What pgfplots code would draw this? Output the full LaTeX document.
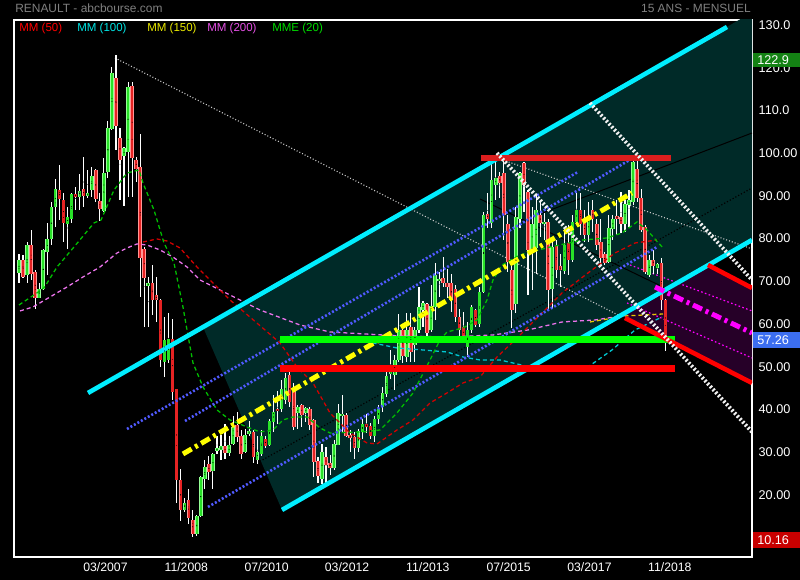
\documentclass[border=0pt]{standalone}
\usepackage{fontspec}
\setmainfont{Liberation Sans}
\usepackage{graphicx}
\usepackage{pgfplots}
\pgfplotsset{compat=1.18}
\usepackage{pgfplotstable}

\definecolor{tealfill}{RGB}{0,42,40}
\definecolor{purplefill}{RGB}{38,0,40}
\definecolor{cyanline}{RGB}{0,238,255}
\definecolor{bluedot}{RGB}{80,90,255}
\definecolor{yellowline}{RGB}{255,255,0}
\definecolor{redline}{RGB}{255,0,0}
\definecolor{redband}{RGB}{220,30,30}
\definecolor{greenband}{RGB}{0,255,0}
\definecolor{whitedot}{RGB}{240,240,240}
\definecolor{greydot}{RGB}{200,200,200}
\definecolor{magline}{RGB}{255,0,255}
\definecolor{maA}{RGB}{210,0,0}
\definecolor{maB}{RGB}{0,200,210}
\definecolor{maC}{RGB}{230,200,0}
\definecolor{maD}{RGB}{235,115,235}
\definecolor{maE}{RGB}{0,190,0}
\definecolor{gbody}{RGB}{40,225,40}
\definecolor{gedge}{RGB}{150,255,150}
\definecolor{rbody}{RGB}{230,35,35}
\definecolor{redge}{RGB}{255,150,150}
\definecolor{titlegrey}{RGB}{128,128,128}
\definecolor{boxgreen}{RGB}{20,130,20}
\definecolor{boxblue}{RGB}{60,110,240}
\definecolor{boxred}{RGB}{200,0,0}

% monthly candles: index, open, high, low, close
\pgfplotstableread{
i o h l c
1 72.0 76.5 69.5 75.1
3 71.6 79.3 69.5 78.5
6 66.2 69.5 66.0 68.3
7 68.3 77.6 68.0 77.3
8 76.8 83.6 71.5 80.0
9 80.0 88.6 78.5 87.3
10 87.3 93.9 82.8 91.5
13 83.4 87.5 77.5 85.1
14 84.5 90.6 83.6 90.4
16 89.8 95.1 86.7 91.2
18 90.0 96.0 89.4 90.6
19 91.3 96.8 89.8 94.6
22 86.5 98.8 86.3 95.3
23 95.7 107.6 94.1 105.8
24 105.6 120.2 105.4 118.7
27 99.3 101.5 87.6 101.1
28 100.3 116.7 89.8 115.6
33 69.0 71.1 59.4 69.5
37 51.2 61.7 47.6 56.2
38 51.6 62.5 50.8 56.6
42 16.6 19.2 16.0 18.1
45 10.8 15.2 10.3 15.0
46 15.0 24.5 14.8 24.2
47 23.8 28.1 21.5 26.6
49 25.6 29.8 21.3 29.5
50 30.3 33.7 29.7 31.0
51 30.5 34.0 28.1 31.4
53 29.8 33.7 29.1 31.6
54 31.9 38.4 31.6 35.8
57 30.1 35.5 29.8 34.0
58 34.2 37.3 33.7 34.9
60 28.3 33.7 27.3 30.1
61 29.7 35.2 29.1 33.7
63 31.6 37.9 31.4 37.3
64 37.1 43.3 34.8 39.4
66 40.2 46.9 39.4 44.7
67 42.3 48.6 41.2 47.3
70 39.1 41.0 35.5 40.6
72 39.1 40.6 37.1 40.4
76 23.8 32.0 22.5 30.1
79 26.2 32.8 25.8 32.0
80 31.8 41.4 31.6 39.1
81 38.5 43.4 34.4 38.9
85 30.9 35.5 30.1 35.0
86 34.8 37.9 33.2 36.7
89 33.8 38.4 32.4 37.9
90 37.9 41.0 36.7 40.2
91 40.6 45.3 39.4 43.9
92 43.6 49.2 43.0 47.8
93 48.3 53.9 47.2 48.8
94 48.0 52.7 44.5 51.7
95 51.5 62.3 51.1 58.7
97 52.3 62.5 51.1 58.7
99 55.1 59.4 51.1 58.6
100 58.6 68.7 57.8 64.0
101 63.2 65.4 59.4 65.0
103 58.6 69.1 58.2 64.2
104 64.0 74.3 60.9 71.5
105 70.0 72.2 66.4 70.5
112 54.7 60.5 52.3 58.7
113 58.7 64.4 57.8 64.0
115 60.0 68.7 59.4 67.5
116 67.5 86.3 67.2 85.5
118 83.7 98.0 82.4 93.7
119 92.5 99.6 89.0 94.1
124 64.8 87.5 62.5 85.1
125 84.7 95.7 82.4 95.3
128 77.3 87.5 67.9 83.5
129 77.7 90.2 71.8 86.7
131 83.4 85.9 79.6 84.0
133 68.3 79.3 63.6 78.1
136 72.5 82.4 71.8 78.5
138 75.0 85.5 74.6 83.9
139 83.9 90.6 83.2 86.7
142 80.8 88.6 79.3 84.7
147 74.6 85.5 74.2 82.6
148 82.2 85.5 79.6 84.7
151 83.5 89.0 81.6 88.2
152 87.8 91.4 82.8 89.0
153 88.6 99.6 87.8 98.0
157 71.5 76.1 71.1 75.0
159 73.2 74.2 71.8 74.0
}\upcandles

\pgfplotstableread{
i o h l c
2 75.1 76.1 70.7 71.1
4 78.5 82.0 70.3 71.8
5 72.2 72.6 63.6 66.0
11 91.3 97.2 84.3 89.2
12 89.0 90.6 79.3 83.6
15 90.4 92.1 86.7 89.8
17 91.5 99.0 87.5 90.0
20 96.0 96.4 88.6 89.2
21 88.9 90.6 84.2 86.9
25 117.7 122.9 100.7 106.3
26 103.5 105.8 89.0 98.5
29 115.7 116.7 89.8 98.8
30 98.4 99.2 93.3 96.4
31 96.7 104.6 66.4 75.4
32 77.5 78.1 59.4 70.7
34 69.5 73.8 62.1 65.6
35 66.9 71.1 60.5 65.6
36 65.6 65.8 50.0 51.6
39 56.4 61.3 42.2 44.1
40 44.7 44.9 18.2 23.4
41 23.6 26.0 14.0 16.5
43 18.9 21.3 13.1 14.5
44 14.2 16.6 10.16 10.9
48 27.2 29.1 23.4 25.4
52 31.4 36.7 28.5 29.8
55 36.3 39.4 32.4 33.6
56 33.7 35.3 28.5 29.7
59 34.8 35.2 27.5 28.8
62 33.2 33.7 30.9 31.4
65 40.1 44.4 36.7 39.6
68 48.0 48.8 40.6 41.8
69 44.5 46.1 35.2 35.9
71 41.0 41.4 36.0 38.7
73 40.2 40.6 35.2 36.3
74 37.5 37.9 24.2 27.7
75 28.0 28.9 22.7 24.4
77 28.9 31.2 22.7 27.0
78 27.6 29.3 24.6 26.2
82 38.7 39.2 33.6 33.8
83 34.0 35.2 30.1 33.4
84 33.6 34.8 28.5 30.9
87 36.6 38.9 34.4 36.0
88 36.1 36.9 33.2 33.8
96 58.6 59.4 50.8 52.5
98 59.2 62.5 51.1 53.5
102 64.8 65.0 57.0 57.9
106 70.9 75.7 68.7 69.7
107 69.7 73.0 66.2 68.6
108 69.7 71.8 62.9 65.6
109 68.1 69.1 60.5 61.7
110 61.7 63.6 57.0 58.7
111 59.2 62.9 56.2 57.0
114 63.4 63.6 59.4 59.7
117 85.7 90.6 82.6 84.7
120 94.6 95.7 89.4 92.9
121 95.3 99.6 79.6 85.5
122 83.5 85.5 72.2 74.6
123 72.6 75.0 59.0 63.3
126 97.6 98.0 86.3 92.5
127 91.0 91.4 66.8 77.3
130 85.5 88.6 80.4 83.7
132 83.9 84.7 63.6 67.9
134 78.5 79.7 70.7 72.6
135 73.6 76.5 68.7 72.6
137 78.9 83.2 71.5 75.0
140 86.7 90.6 80.8 83.5
141 83.9 86.7 79.3 80.8
143 86.7 89.0 81.6 84.7
144 83.5 84.7 77.3 78.5
145 79.3 84.7 74.2 75.4
146 76.5 76.9 73.8 74.2
149 85.3 89.0 80.8 84.7
150 85.1 91.0 81.2 83.4
154 96.4 98.8 88.6 89.4
155 89.4 91.7 81.6 82.0
156 82.8 83.2 71.8 72.2
158 75.1 77.3 71.8 73.6
160 74.3 75.4 63.4 65.6
161 65.6 65.8 53.6 57.26
}\downcandles

\pgfplotsset{
  hiddenmarks/.style={only marks, mark=*, mark size=0.01pt, mark options={draw=none, fill=none}},
  wick/.style={hiddenmarks, error bars/.cd, y dir=both, y explicit,
    error mark=none, error bar style={draw=white, line width=0.28mm}},
  body/.style 2 args={hiddenmarks, error bars/.cd, y dir=both, y explicit,
    error mark=none, error bar style={draw=#1, line width=#2}},
  madash/.style={mark=none, line width=0.32mm, dash pattern=on 1mm off 0.75mm},
  bluedots/.style={mark=none, bluedot, line width=0.65mm, dash pattern=on 0.5mm off 0.5mm},
  whitedots/.style={mark=none, whitedot, line width=0.95mm, dash pattern=on 0.5mm off 0.5mm},
  dashdot/.style={mark=none, line width=1.25mm, dash pattern=on 2.5mm off 1mm on 0.75mm off 1mm},
}

\begin{document}
\begin{tikzpicture}[x=0.25mm,y=0.25mm]
\useasboundingbox (0,0) rectangle (800,580);
\fill[black] (0,0) rectangle (800,580);

\begin{axis}[
  at={(3.5mm,5.75mm)}, anchor=south west,
  width=184.5mm, height=134.25mm, scale only axis,
  xmin=-0.24, xmax=182.44, ymin=5.49, ymax=131.17,
  axis line style={white, line width=0.3mm},
  major tick length=0pt, tick style={draw=none},
  xtick={22.4,42.4,62.3,82.2,102.2,122.2,142.2,162.1},
  xticklabels={03/2007,11/2008,07/2010,03/2012,11/2013,07/2015,03/2017,11/2018},
  ytick={20,30,40,50,60,70,80,90,100,110,120,130},
  yticklabels={20.00,30.00,40.00,50.00,60.00,70.00,80.00,90.00,100.00,110.0,120.0,130.0},
  yticklabel pos=right,
  ticklabel style={text=white},
  xticklabel style={font=\fontsize{8.7}{10}\selectfont, anchor=north, inner sep=0pt, yshift=-1.3mm},
  yticklabel style={font=\fontsize{9}{10}\selectfont, anchor=west, inner sep=0pt, xshift=1.6mm},
]

% channel background
\addplot[fill=tealfill, draw=none] coordinates {(46.54,59.32) (182.44,132.92) (182.44,79.68) (66.10,16.50)} -- cycle;
% projected channel
\addplot[fill=purplefill, draw=none] coordinates {(150.75,62.48) (171.54,73.83) (182.44,68.45) (182.44,46.22) (151.0,61.43)} -- cycle;

% thin guide lines
\addplot[mark=none, greydot, line width=0.28mm, dash pattern=on 0.25mm off 0.5mm] coordinates {(24.76,122.28) (150.26,61.66)};
\addplot[mark=none, greydot, line width=0.28mm, dash pattern=on 0.25mm off 0.5mm] coordinates {(120.80,98.41) (182.44,77.58)};
\addplot[mark=none, black, line width=0.3mm, dash pattern=on 0.3mm off 0.5mm] coordinates {(59.91,27.49) (182.44,91.85)};
\addplot[mark=none, black, line width=0.25mm] coordinates {(115.11,89.28) (160.9,68.45)};
\addplot[mark=none, black, line width=0.25mm] coordinates {(129.96,85.77) (182.44,104.72)};
\addplot[mark=none, magline, line width=0.3mm, dash pattern=on 0.4mm off 0.6mm] coordinates {(152.24,73.83) (182.44,63.07)};
\addplot[mark=none, magline, line width=0.3mm, dash pattern=on 0.4mm off 0.6mm] coordinates {(151.5,64.94) (182.44,52.07)};

% candles: wicks, then bodies
\addplot[wick] table[x=i, y expr={(\thisrow{h}+\thisrow{l})/2}, y error expr={(\thisrow{h}-\thisrow{l})/2}] {\upcandles};
\addplot[wick] table[x=i, y expr={(\thisrow{h}+\thisrow{l})/2}, y error expr={(\thisrow{h}-\thisrow{l})/2}] {\downcandles};
\addplot[body={gedge}{0.9mm}] table[x=i, y expr={(\thisrow{o}+\thisrow{c})/2}, y error expr={abs(\thisrow{c}-\thisrow{o})/2}] {\upcandles};
\addplot[body={gbody}{0.55mm}] table[x=i, y expr={(\thisrow{o}+\thisrow{c})/2}, y error expr={abs(\thisrow{c}-\thisrow{o})/2}] {\upcandles};
\addplot[body={redge}{0.9mm}] table[x=i, y expr={(\thisrow{o}+\thisrow{c})/2}, y error expr={abs(\thisrow{c}-\thisrow{o})/2}] {\downcandles};
\addplot[body={rbody}{0.55mm}] table[x=i, y expr={(\thisrow{o}+\thisrow{c})/2}, y error expr={abs(\thisrow{c}-\thisrow{o})/2}] {\downcandles};

% moving averages
\addplot[madash, maD] coordinates {(1.25,63.07) (4.46,64.00) (8.67,66.34) (12.88,68.68) (16.84,71.02) (21.05,73.36) (25.26,76.64) (27.73,77.81) (30.20,78.75) (32.68,78.51) (35.90,77.34) (39.11,75.70) (42.58,73.36) (45.80,70.32) (53.23,66.81) (60.65,63.30) (70.55,59.79) (77.98,58.15) (95.31,57.22) (107.68,56.98) (118.33,57.45) (127.00,58.62) (135.41,60.49) (143.57,60.96) (151.75,62.13)};
\addplot[madash, maC] coordinates {(142.34,60.49) (151.0,61.90) (160.41,62.36)};
\addplot[madash, maB] coordinates {(81.69,56.75) (88.62,55.58) (94.56,54.41) (101.0,53.94) (106.94,53.47) (110.90,52.30) (115.11,51.60) (120.06,51.60) (127.49,49.96) (134.91,49.26) (141.84,49.96) (147.78,53.94) (153.48,58.62) (160.16,61.66)};
\addplot[madash, maA] coordinates {(31.69,79.21) (35.16,79.92) (37.63,79.45) (40.85,77.81) (45.06,73.36) (53.23,65.64) (61.89,58.62) (65.60,55.58) (69.81,49.96) (73.77,46.22) (77.98,39.20) (82.93,34.52) (87.14,32.18) (89.61,31.94) (94.56,35.22) (98.53,37.56) (102.73,41.54) (106.94,43.88) (110.90,46.22) (115.11,47.62) (119.32,52.30) (123.78,56.28) (128.73,60.96) (135.41,67.28) (141.84,71.96) (148.53,76.64) (153.48,78.98) (158.92,79.68)};
\addplot[madash, maE] coordinates {(1.00,64.47) (4.71,66.81) (7.19,68.45) (10.41,73.36) (14.61,78.04) (19.56,83.66) (21.30,84.36) (24.52,91.38) (27.73,95.36) (30.70,96.06) (31.69,93.02) (34.41,86.70) (36.89,78.98) (39.37,74.30) (41.59,64.00) (42.58,58.62) (44.07,50.90) (46.54,45.28) (50.01,39.90) (53.23,37.56) (57.43,35.92) (60.65,34.75) (63.87,35.22) (66.34,37.56) (68.82,38.26) (72.29,38.26) (75.50,35.69) (77.98,34.52) (86.15,34.75) (90.36,35.22) (94.56,39.20) (98.53,43.88) (102.73,51.60) (105.21,56.28) (106.94,58.15) (110.90,59.09) (114.37,60.96) (116.84,65.64) (118.33,70.32) (120.56,73.83) (125.02,76.17) (132.45,78.04) (140.60,79.68) (146.54,80.15) (150.26,81.32) (153.97,83.90) (156.45,82.02) (160.41,77.81)};

% channel lines
\addplot[bluedots] coordinates {(27.73,35.45) (139.37,95.60)};
\addplot[bluedots] coordinates {(42.09,37.32) (152.98,98.87)};
\addplot[bluedots] coordinates {(47.78,17.20) (158.92,78.04)};
\addplot[dashdot, yellowline] coordinates {(41.59,29.60) (152.74,90.68)};
\addplot[mark=none, cyanline, line width=1.15mm] coordinates {(18.08,43.88) (176.25,129.53)};
\addplot[mark=none, cyanline, line width=1.15mm] coordinates {(66.10,16.50) (182.44,79.68)};

% support and resistance levels
\addplot[mark=none, redband, line width=1.5mm] coordinates {(115.36,98.87) (162.39,98.87)};
\addplot[mark=none, greenband, line width=1.75mm] coordinates {(65.60,56.40) (163.38,56.40)};
\addplot[mark=none, redline, line width=1.75mm] coordinates {(65.60,49.61) (163.38,49.61)};

% projection
\addplot[mark=none, redline, line width=1.15mm] coordinates {(151.0,61.43) (182.44,46.22)};
\addplot[mark=none, redline, line width=1.15mm] coordinates {(171.54,73.83) (182.44,68.45)};
\addplot[dashdot, magline] coordinates {(158.43,68.68) (182.44,57.92)};
\addplot[whitedots] coordinates {(119.32,100.04) (182.44,34.75)};
\addplot[whitedots] coordinates {(142.34,111.75) (182.44,70.32)};
\end{axis}

% headers
\node[anchor=base west, text=titlegrey, inner sep=0pt, font=\fontsize{8.5}{10}\selectfont] at (15,567.3) {RENAULT - abcbourse.com};
\node[anchor=base east, text=titlegrey, inner sep=0pt, font=\fontsize{8.5}{10}\selectfont] at (751,567.3) {15 ANS - MENSUEL};

% indicator key
\begin{scope}[every node/.style={anchor=base west, inner sep=0pt, font=\fontsize{8.2}{10}\selectfont}]
\node[text=redline] at (19,548.5) {MM (50)};
\node[text={rgb,255:red,0;green,230;blue,230}] at (77,548.5) {MM (100)};
\node[text={rgb,255:red,235;green,235;blue,0}] at (147,548.5) {MM (150)};
\node[text={rgb,255:red,230;green,80;blue,230}] at (207,548.5) {MM (200)};
\node[text={rgb,255:red,0;green,220;blue,0}] at (272,548.5) {MME (20)};
\end{scope}

% price boxes
\fill[boxgreen] (753,513) rectangle (800,527);
\node[anchor=west, text=white, inner sep=0pt, font=\fontsize{9}{10}\selectfont] at (757,520) {122.9};
\fill[boxblue] (753,232) rectangle (800,248);
\node[anchor=west, text=white, inner sep=0pt, font=\fontsize{9}{10}\selectfont] at (757,240) {57.26};
\fill[boxred] (753,32) rectangle (800,48);
\node[anchor=west, text=white, inner sep=0pt, font=\fontsize{9}{10}\selectfont] at (757,40) {10.16};
\end{tikzpicture}
\end{document}
